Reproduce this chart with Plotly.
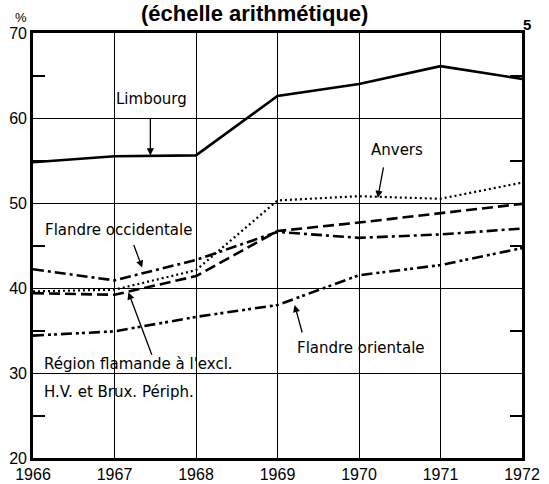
import plotly.graph_objects as go

years = [1966, 1967, 1968, 1969, 1970, 1971, 1972]
limbourg = [54.8, 55.5, 55.6, 62.6, 64.0, 66.1, 64.6]
anvers = [39.6, 39.8, 42.1, 50.3, 50.8, 50.5, 52.4]
region_flamande = [39.4, 39.2, 41.4, 46.7, 47.7, 48.8, 49.9]
flandre_occ = [42.2, 40.9, 43.3, 46.6, 45.9, 46.3, 47.0]
flandre_or = [34.4, 34.9, 36.6, 38.0, 41.5, 42.7, 44.7]

y_ticks = [20, 30, 40, 50, 60, 70]
x_ticks = years

FONT = "Liberation Sans, Arial, Helvetica, sans-serif"
LFONT = "DejaVu Sans, Verdana, sans-serif"

fig = go.Figure()
series = [
    ("Limbourg", limbourg, dict(color="black", width=2.6, dash="solid")),
    ("Anvers", anvers, dict(color="black", width=2.2, dash="2px,3px")),
    ("Région flamande", region_flamande, dict(color="black", width=2.6, dash="11px,5px")),
    ("Flandre occidentale", flandre_occ, dict(color="black", width=2.6, dash="11px,4px,3px,4px")),
    ("Flandre orientale", flandre_or, dict(color="black", width=2.6, dash="11px,4px,3px,3px,3px,4px")),
]
for name, vals, line in series:
    fig.add_trace(go.Scatter(x=years, y=vals, mode="lines", name=name, line=line,
                             showlegend=False, hoverinfo="skip"))

lab_font = dict(family=LFONT, size=15, color="black")
texts = [
    ("Limbourg", 1967.45, 101, "center"),
    ("Anvers", 1970.47, 152, "center"),
    ("Flandre occidentale", 1967.05, 231, "center"),
    ("Région flamande à l'excl.", 1966.11, 365, "left"),
    ("H.V. et Brux. Périph.", 1966.11, 392, "left"),
    ("Flandre orientale", 1970.03, 349, "center"),
]

def ypix_to_val(yp):
    return 20 + (458 - yp) / 8.45

for t, x, yp, anc in texts:
    fig.add_annotation(x=x, y=ypix_to_val(yp), text=t, showarrow=False, font=lab_font,
                       xanchor=anc, yanchor="middle")

arrows = [
    (1967.44, 55.6, 0, -38),
    (1970.23, 50.6, 6, -32),
    (1967.34, 42.4, -9, -24),
    (1967.17, 39.5, 24, 64),
    (1969.21, 38.0, 8, 29),
]
for hx, hy, ax, ay in arrows:
    fig.add_annotation(x=hx, y=hy, ax=ax, ay=ay, text="", showarrow=True,
                       arrowhead=2, arrowsize=1.1, arrowwidth=1.3, arrowcolor="black",
                       standoff=0, startstandoff=0)

fig.add_annotation(xref="paper", yref="paper", x=0.453, y=1, yshift=34, yanchor="top",
                   xanchor="center",
                   text="<b>(échelle arithmétique)</b>", showarrow=False,
                   font=dict(family=FONT, size=22, color="black"))
fig.add_annotation(xref="paper", yref="paper", x=0, xshift=-12, y=1, yshift=16, yanchor="middle",
                   xanchor="center",
                   text="%", showarrow=False, font=dict(family=FONT, size=13, color="black"))
fig.add_annotation(xref="paper", yref="paper", x=1, xshift=5, y=1, yshift=9, yanchor="middle",
                   xanchor="center",
                   text="<b>5</b>", showarrow=False, font=dict(family=FONT, size=15, color="black"))

fig.update_layout(
    width=549, height=484,
    margin=dict(l=33, r=27, t=33, b=26),
    paper_bgcolor="white", plot_bgcolor="white",
    font=dict(family=FONT, size=16, color="black"),
    showlegend=False,
)
fig.update_xaxes(
    range=[1966, 1972], tickvals=x_ticks, ticktext=[str(v) for v in x_ticks],
    showgrid=True, gridcolor="black", gridwidth=1, automargin=False,
    showline=True, linecolor="black", linewidth=2.6, mirror=True,
    ticks="", tickfont=dict(family=FONT, size=16), zeroline=False,
)
fig.update_yaxes(
    range=[20, 70], tickvals=y_ticks, automargin=False,
    showgrid=True, gridcolor="black", gridwidth=1,
    showline=True, linecolor="black", linewidth=2.6, mirror="ticks",
    ticks="", tickfont=dict(family=FONT, size=16), zeroline=False,
    minor=dict(ticks="inside", ticklen=12, tickwidth=1.5, tickcolor="black",
               tickvals=[25, 35, 45, 55, 65], showgrid=False),
)

fig.write_html("out.html", config={"displayModeBar": False},
               post_script="document.body.style.margin='0';document.body.style.overflow='hidden';")
